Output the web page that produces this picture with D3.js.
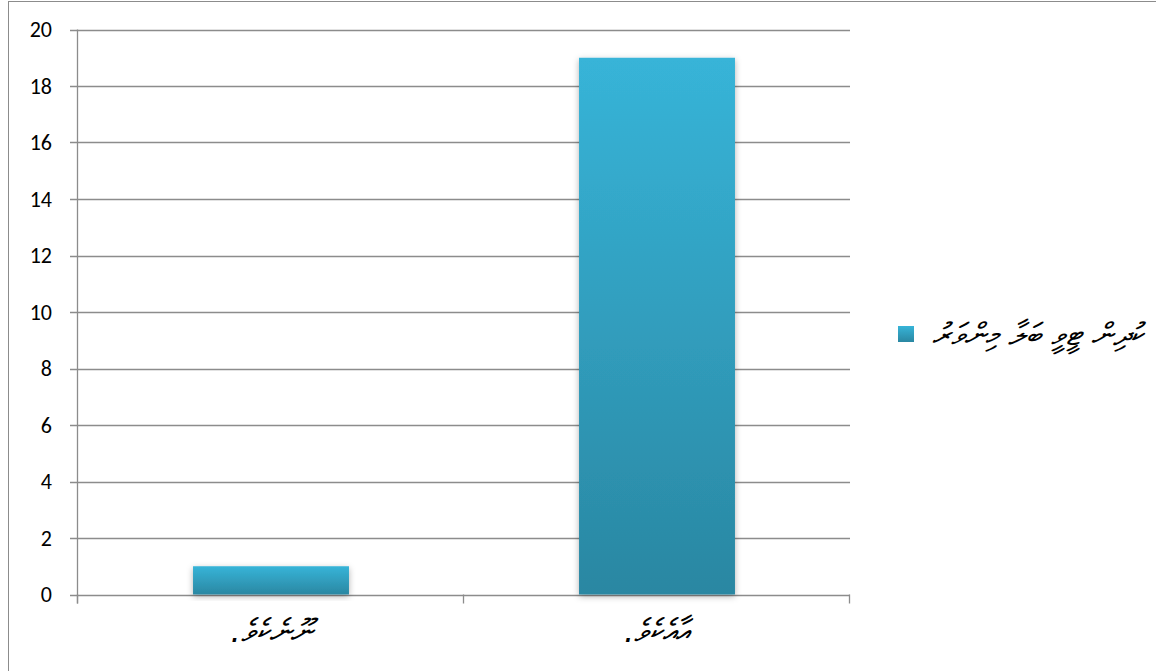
<!DOCTYPE html>
<html>
<head>
<meta charset="utf-8">
<script src="https://cdn.jsdelivr.net/npm/d3@7"></script>
<style>
  body { margin: 0; background: #fff; }
  svg { display: block; }
</style>
</head>
<body>
<div id="chart"></div>
<script>
// --- Data ---
const categories = ["ނޫނެކެވެ.", "އާއެކެވެ."];
const values = [1, 19];
const seriesName = "ކުދިން ޓީވީ ބަލާ މިންވަރު";
const yTicks = [0, 2, 4, 6, 8, 10, 12, 14, 16, 18, 20];

// --- SVG Setup ---
const width = 1156;
const height = 671;
const plot = { left: 78, right: 850, top: 29.5, bottom: 594.5 };

const svg = d3.select("#chart")
  .append("svg")
  .attr("width", width)
  .attr("height", height);

// outer frame (right/bottom edges fall outside the picture)
svg.append("rect")
  .attr("x", 8.5).attr("y", 1.5)
  .attr("width", 1160).attr("height", 680)
  .attr("fill", "none")
  .attr("stroke", "#8c8c8c")
  .attr("stroke-width", 1);

const defs = svg.append("defs");
const grad = defs.append("linearGradient")
  .attr("id", "barGrad")
  .attr("x1", 0).attr("y1", 0).attr("x2", 0).attr("y2", 1);
grad.append("stop").attr("offset", "0%").attr("stop-color", "#37b4d8");
grad.append("stop").attr("offset", "100%").attr("stop-color", "#2a87a2");

const legGrad = defs.append("linearGradient")
  .attr("id", "legGrad")
  .attr("x1", 0).attr("y1", 0).attr("x2", 0).attr("y2", 1);
legGrad.append("stop").attr("offset", "0%").attr("stop-color", "#37b4d8");
legGrad.append("stop").attr("offset", "100%").attr("stop-color", "#2a87a2");

const shadow = defs.append("filter")
  .attr("id", "shadow")
  .attr("x", "-20%").attr("y", "-20%")
  .attr("width", "140%").attr("height", "140%");
shadow.append("feDropShadow")
  .attr("dx", 0).attr("dy", 2)
  .attr("stdDeviation", 3)
  .attr("flood-color", "#000")
  .attr("flood-opacity", 0.3);

// --- Scales ---
const x = d3.scaleBand()
  .domain(categories)
  .range([plot.left, plot.right])
  .paddingInner(0.596)
  .paddingOuter(0.298);

const y = d3.scaleLinear()
  .domain([0, 20])
  .range([plot.bottom, plot.top]);

// --- Gridlines ---
svg.append("g")
  .selectAll("line")
  .data(yTicks)
  .enter()
  .append("line")
  .attr("x1", plot.left - 8)
  .attr("x2", plot.right)
  .attr("y1", d => Math.round(y(d)) + 0.5)
  .attr("y2", d => Math.round(y(d)) + 0.5)
  .attr("stroke", "#8c8c8c")
  .attr("stroke-width", 1.3);

// --- Y axis ---
svg.append("line")
  .attr("x1", plot.left - 0.5).attr("x2", plot.left - 0.5)
  .attr("y1", plot.top).attr("y2", plot.bottom + 9)
  .attr("stroke", "#8c8c8c")
  .attr("stroke-width", 1.3);

svg.append("g")
  .selectAll("text")
  .data(yTicks)
  .enter()
  .append("text")
  .attr("x", 52)
  .attr("y", d => y(d))
  .attr("dy", "0.36em")
  .attr("text-anchor", "end")
  .attr("font-family", "Carlito, Lato, 'Open Sans', sans-serif")
  .attr("font-size", "22px")
  .attr("fill", "#000")
  .text(d => d);

// --- X axis ticks ---
const xTickPos = [plot.left, x.step() + plot.left, plot.right];
svg.append("g")
  .selectAll("line")
  .data(xTickPos)
  .enter()
  .append("line")
  .attr("x1", d => Math.round(d) - 0.5)
  .attr("x2", d => Math.round(d) - 0.5)
  .attr("y1", plot.bottom)
  .attr("y2", plot.bottom + 9)
  .attr("stroke", "#8c8c8c")
  .attr("stroke-width", 1.3);

// --- Bars ---
svg.append("g")
  .selectAll("rect")
  .data(values)
  .enter()
  .append("rect")
  .attr("x", (d, i) => x(categories[i]))
  .attr("y", d => y(d))
  .attr("width", x.bandwidth())
  .attr("height", d => y(0) - y(d))
  .attr("fill", "url(#barGrad)")
  .attr("filter", "url(#shadow)");

// --- Category labels ---
svg.append("g")
  .selectAll("text")
  .data(categories)
  .enter()
  .append("text")
  .attr("x", d => x(d) + x.bandwidth() / 2)
  .attr("y", 631)
  .attr("dy", "0.35em")
  .attr("text-anchor", "middle")
  .attr("direction", "rtl")
  .attr("font-family", "'DejaVu Sans', sans-serif")
  .attr("font-style", "italic")
  .attr("font-size", "32px")
  .attr("fill", "#000")
  .text(d => d);

// --- Legend ---
const legend = svg.append("g").attr("transform", "translate(898,326)");
legend.append("rect")
  .attr("width", 16).attr("height", 16)
  .attr("fill", "url(#legGrad)");
legend.append("text")
  .attr("x", 245)
  .attr("y", 8)
  .attr("dy", "0.35em")
  .attr("text-anchor", "start")
  .attr("direction", "rtl")
  .attr("font-family", "'DejaVu Sans', sans-serif")
  .attr("font-style", "italic")
  .attr("font-size", "31px")
  .attr("fill", "#000")
  .text(seriesName);
</script>
</body>
</html>
